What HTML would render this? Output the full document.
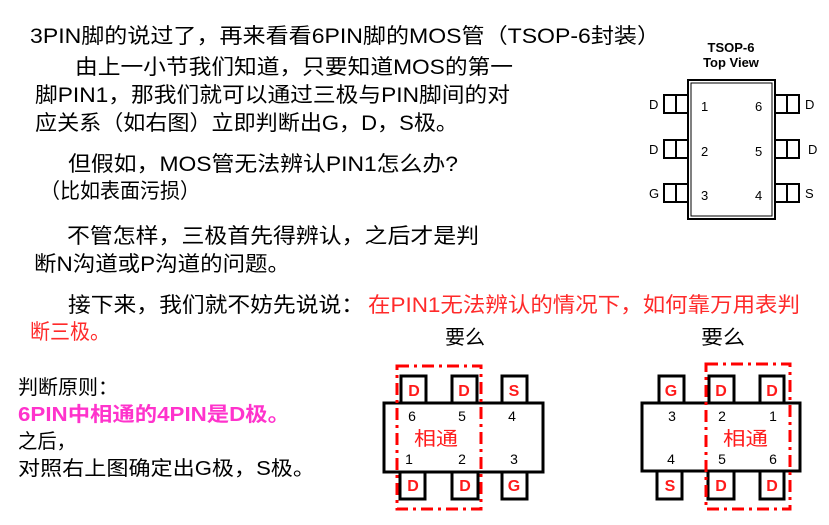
<!DOCTYPE html>
<html><head><meta charset="utf-8"><style>
html,body{margin:0;padding:0;background:#fff;}
svg{display:block;}
text{font-family:"Liberation Sans","Noto Sans CJK SC",sans-serif;}
</style></head><body>
<svg width="829" height="525" viewBox="0 0 829 525" xmlns="http://www.w3.org/2000/svg">
<g font-size="21" fill="#000">
<text x="30" y="43" textLength="630" lengthAdjust="spacingAndGlyphs">3PIN脚的说过了，再来看看6PIN脚的MOS管（TSOP-6封装）</text>
<text x="75" y="74" textLength="438" lengthAdjust="spacingAndGlyphs">由上一小节我们知道，只要知道MOS的第一</text>
<text x="35" y="102" textLength="475" lengthAdjust="spacingAndGlyphs">脚PIN1，那我们就可以通过三极与PIN脚间的对</text>
<text x="35" y="130" textLength="423" lengthAdjust="spacingAndGlyphs">应关系（如右图）立即判断出G，D，S极。</text>
<text x="68" y="171" textLength="390" lengthAdjust="spacingAndGlyphs">但假如，MOS管无法辨认PIN1怎么办?</text>
<text x="40" y="198" textLength="160" lengthAdjust="spacingAndGlyphs">（比如表面污损）</text>
<text x="67" y="243" textLength="412" lengthAdjust="spacingAndGlyphs">不管怎样，三极首先得辨认，之后才是判</text>
<text x="34" y="271" textLength="256" lengthAdjust="spacingAndGlyphs">断N沟道或P沟道的问题。</text>
<text x="68" y="312" textLength="296" lengthAdjust="spacingAndGlyphs">接下来，我们就不妨先说说：</text>
<text x="368" y="312" fill="#ff2a2a" textLength="432" lengthAdjust="spacingAndGlyphs">在PIN1无法辨认的情况下，如何靠万用表判</text>
<text x="30" y="339" fill="#ff2a2a" textLength="80" lengthAdjust="spacingAndGlyphs">断三极。</text>
<text x="445" y="344" font-size="20" textLength="40" lengthAdjust="spacingAndGlyphs">要么</text>
<text x="701" y="344" font-size="20" textLength="44" lengthAdjust="spacingAndGlyphs">要么</text>
<text x="18" y="394" font-size="20" textLength="100" lengthAdjust="spacingAndGlyphs">判断原则：</text>
<text x="18" y="421" font-size="20" font-weight="bold" fill="#ff33cc" textLength="272" lengthAdjust="spacingAndGlyphs">6PIN中相通的4PIN是D极。</text>
<text x="18" y="448" font-size="20" textLength="58" lengthAdjust="spacingAndGlyphs">之后，</text>
<text x="18" y="475" font-size="20" textLength="297" lengthAdjust="spacingAndGlyphs">对照右上图确定出G极，S极。</text>
</g>
<!-- TSOP-6 -->
<g font-size="13" fill="#000">
<text x="731" y="52" text-anchor="middle" font-weight="bold">TSOP-6</text>
<text x="731" y="67" text-anchor="middle" font-weight="bold">Top View</text>
</g>
<g fill="none" stroke="#000" stroke-width="2">
<rect x="688" y="80" width="87" height="139"/>
<rect x="691" y="83" width="81" height="133" stroke-width="1"/>
<rect x="664" y="95" width="24" height="18"/><line x1="676" y1="95" x2="676" y2="113"/>
<rect x="664" y="140" width="24" height="18"/><line x1="676" y1="140" x2="676" y2="158"/>
<rect x="664" y="184" width="24" height="18"/><line x1="676" y1="184" x2="676" y2="202"/>
<rect x="775" y="95" width="24" height="18"/><line x1="787" y1="95" x2="787" y2="113"/>
<rect x="775" y="140" width="24" height="18"/><line x1="787" y1="140" x2="787" y2="158"/>
<rect x="775" y="184" width="24" height="18"/><line x1="787" y1="184" x2="787" y2="202"/>
</g>
<g font-size="13" fill="#000">
<text x="649" y="109">D</text><text x="649" y="154">D</text><text x="649" y="198">G</text>
<text x="805" y="109">D</text><text x="808" y="154">D</text><text x="805" y="198">S</text>
<text x="701" y="111">1</text><text x="701" y="156">2</text><text x="701" y="200">3</text>
<text x="755" y="111">6</text><text x="755" y="156">5</text><text x="755" y="200">4</text>
</g>
<!-- left package -->
<g fill="#fff" stroke="#000" stroke-width="3">
<rect x="401" y="376" width="25" height="28"/><rect x="452" y="376" width="25" height="28"/><rect x="502" y="376" width="25" height="28"/>
<rect x="400" y="471" width="25" height="28"/><rect x="452" y="471" width="26" height="28"/><rect x="502" y="471" width="25" height="28"/>
<rect x="384" y="403" width="159" height="69"/>
</g>
<g font-size="16" font-weight="bold" fill="#ff1a1a" text-anchor="middle">
<text x="414" y="396">D</text><text x="464" y="396">D</text><text x="514" y="396">S</text>
<text x="413" y="491">D</text><text x="465" y="491">D</text><text x="514" y="491">G</text>
</g>
<g font-size="14" fill="#000" text-anchor="middle">
<text x="412" y="421">6</text><text x="462" y="421">5</text><text x="512" y="421">4</text>
<text x="409" y="464">1</text><text x="462" y="464">2</text><text x="514" y="464">3</text>
</g>
<text x="414" y="445" font-size="19" fill="#ff1a1a" textLength="44" lengthAdjust="spacingAndGlyphs">相通</text>
<rect x="397" y="366" width="84" height="143" fill="none" stroke="#ff0000" stroke-width="3" stroke-dasharray="12,5,3,5"/>
<!-- right package -->
<g fill="#fff" stroke="#000" stroke-width="3">
<rect x="659" y="376" width="25" height="28"/><rect x="709" y="376" width="25" height="28"/><rect x="760" y="376" width="24" height="28"/>
<rect x="657" y="471" width="25" height="28"/><rect x="708" y="471" width="26" height="28"/><rect x="760" y="471" width="24" height="28"/>
<rect x="642" y="403" width="158" height="68"/>
</g>
<g font-size="16" font-weight="bold" fill="#ff1a1a" text-anchor="middle">
<text x="671" y="396">G</text><text x="721" y="396">D</text><text x="772" y="396">D</text>
<text x="670" y="491">S</text><text x="721" y="491">D</text><text x="772" y="491">D</text>
</g>
<g font-size="14" fill="#000" text-anchor="middle">
<text x="672" y="421">3</text><text x="722" y="421">2</text><text x="773" y="421">1</text>
<text x="671" y="464">4</text><text x="722" y="464">5</text><text x="773" y="464">6</text>
</g>
<text x="723" y="445" font-size="19" fill="#ff1a1a" textLength="45" lengthAdjust="spacingAndGlyphs">相通</text>
<rect x="706" y="364" width="84" height="145" fill="none" stroke="#ff0000" stroke-width="3" stroke-dasharray="12,5,3,5"/>
</svg>
</body></html>
